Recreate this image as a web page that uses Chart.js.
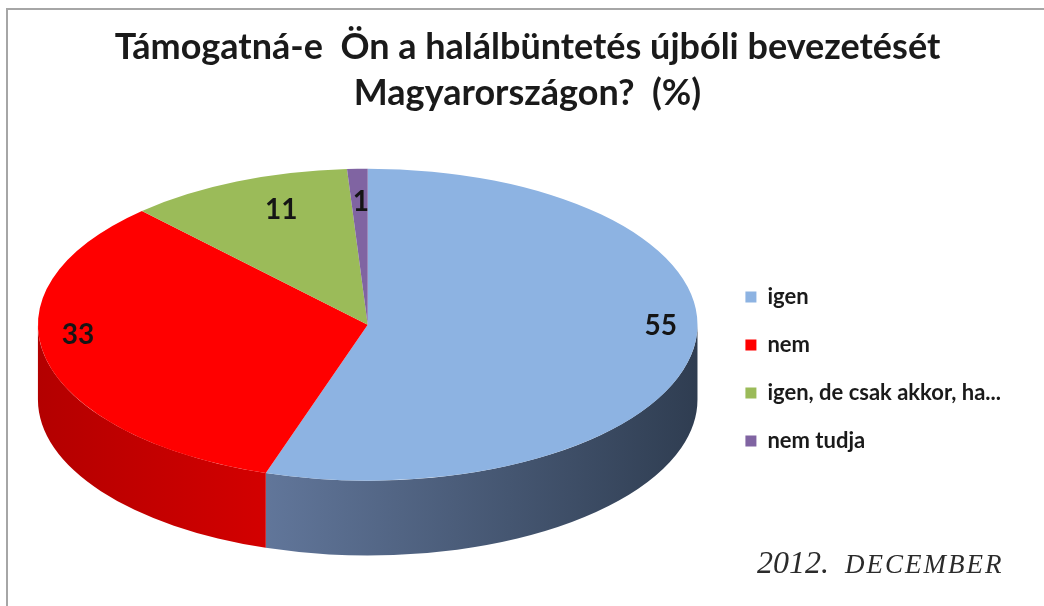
<!DOCTYPE html>
<html lang="hu">
<head>
<meta charset="UTF-8">
<title>Halálbüntetés felmérés</title>
<script src="https://cdn.jsdelivr.net/npm/chart.js"></script>
<style>
  body { margin: 0; background: #fff; }
  .wrap { position: relative; width: 1044px; height: 606px; overflow: hidden; }
  .frame { position: absolute; left: 6px; top: 8px; right: -10px; bottom: -10px; border-top: 2px solid #a6a6a6; border-left: 2px solid #a6a6a6; pointer-events: none; }
  .date { position: absolute; left: 757px; top: 544px; font-family: "Liberation Serif", "DejaVu Serif", serif; font-style: italic; color: #2b2b2b; white-space: nowrap; }
  .date .year { font-size: 32px; }
  .date .month { font-size: 27px; margin-left: 16px; letter-spacing: 2px; }
</style>
</head>
<body>
<div class="wrap">
  <canvas id="pie" width="1044" height="606"></canvas>
  <div class="frame"></div>
  <div class="date"><span class="year">2012.</span><span class="month">DECEMBER</span></div>
</div>
<script>
// --- data ---
const categories = ['igen', 'nem', 'igen, de csak akkor, ha...', 'nem tudja'];
const percentages = [55, 33, 11, 1];
const topColors = ['#8db3e2', '#ff0000', '#9bbb59', '#8064a2'];
const sideColors = [['#61769a', '#2f3d51'], ['#b30000', '#d30000'], ['#7d9a44', '#6c8838'], ['#654e85', '#574174']];

// 3D look: ellipse widening, tilt and wall thickness relative to chart radius
const WIDEN = 1.352;
const TILT = 0.473;
const DEPTH = 0.227;
const TITLE_SHIFT = 14;
const LEGEND_SHIFT = 7;

function pieGeometry(chart) {
  const arc = chart.getDatasetMeta(0).data[0];
  const rx = arc.outerRadius * WIDEN;
  const ry = rx * TILT;
  const depth = rx * DEPTH;
  return { cx: arc.x, cy: arc.y, rx, ry, depth, topCy: arc.y - depth / 2 };
}

const pie3d = {
  id: 'pie3d',
  afterLayout(chart) {
    // title is centred over the whole picture, not the padded area
    const t = chart.titleBlock;
    t.left += TITLE_SHIFT;
    t.right += TITLE_SHIFT;
    chart.legend.top += LEGEND_SHIFT;
    chart.legend.bottom += LEGEND_SHIFT;
  },
  beforeDatasetsDraw(chart) {
    const ctx = chart.ctx;
    const g = pieGeometry(chart);
    const arcs = chart.getDatasetMeta(0).data;

    // front walls
    arcs.forEach((arc, i) => {
      [0, Math.PI * 2].forEach(k => {
        const a0 = Math.max(arc.startAngle, k);
        const a1 = Math.min(arc.endAngle, k + Math.PI);
        if (a1 <= a0) return;
        const xl = g.cx + g.rx * Math.cos(a1);
        const xr = g.cx + g.rx * Math.cos(a0);
        const grad = ctx.createLinearGradient(Math.min(xl, xr), 0, Math.max(xl, xr) + 1, 0);
        grad.addColorStop(0, sideColors[i][0]);
        grad.addColorStop(1, sideColors[i][1]);
        ctx.save();
        ctx.beginPath();
        ctx.ellipse(g.cx, g.topCy, g.rx, g.ry, 0, a0, a1);
        ctx.ellipse(g.cx, g.topCy + g.depth, g.rx, g.ry, 0, a1, a0, true);
        ctx.closePath();
        ctx.fillStyle = grad;
        ctx.fill();
        ctx.restore();
      });
    });

    // squash the real pie into the top face
    ctx.save();
    ctx.translate(g.cx, g.topCy);
    ctx.scale(WIDEN, WIDEN * TILT);
    ctx.translate(-g.cx, -g.cy);
  },
  afterDatasetsDraw(chart) {
    const ctx = chart.ctx;
    ctx.restore();
    const g = pieGeometry(chart);
    const arcs = chart.getDatasetMeta(0).data;
    ctx.save();
    ctx.font = 'bold 28px Lato';
    ctx.fillStyle = '#151515';
    ctx.textAlign = 'center';
    ctx.textBaseline = 'middle';
    arcs.forEach((arc, i) => {
      const mid = (arc.startAngle + arc.endAngle) / 2;
      const f = percentages[i] >= 20 ? 0.9 : 0.66;
      const x = g.cx + g.rx * f * Math.cos(mid);
      const y = g.topCy + g.ry * f * Math.sin(mid) - g.ry * 0.13;
      ctx.fillText(String(percentages[i]), x, y);
    });
    ctx.restore();
  }
};

new Chart(document.getElementById('pie'), {
  type: 'pie',
  data: {
    labels: categories,
    datasets: [{
      data: percentages,
      backgroundColor: topColors,
      borderWidth: 0,
      hoverOffset: 0,
      clip: false
    }]
  },
  options: {
    responsive: false,
    animation: false,
    events: [],
    layout: { padding: { left: 16, right: 33, top: 0, bottom: 0 } },
    plugins: {
      title: {
        display: true,
        text: ['Támogatná-e  Ön a halálbüntetés újbóli bevezetését', 'Magyarországon?  (%)'],
        color: '#1a1a1a',
        font: { family: 'Lato', size: 36, weight: 'bold', lineHeight: 1.28 },
        padding: { top: 24, bottom: 2 }
      },
      legend: {
        position: 'right',
        fullSize: false,
        labels: {
          color: '#1a1a1a',
          font: { family: 'Lato', size: 22, weight: 'bold' },
          boxWidth: 11,
          boxHeight: 11,
          padding: 26
        }
      },
      tooltip: { enabled: false }
    }
  },
  plugins: [pie3d]
});
</script>
</body>
</html>
